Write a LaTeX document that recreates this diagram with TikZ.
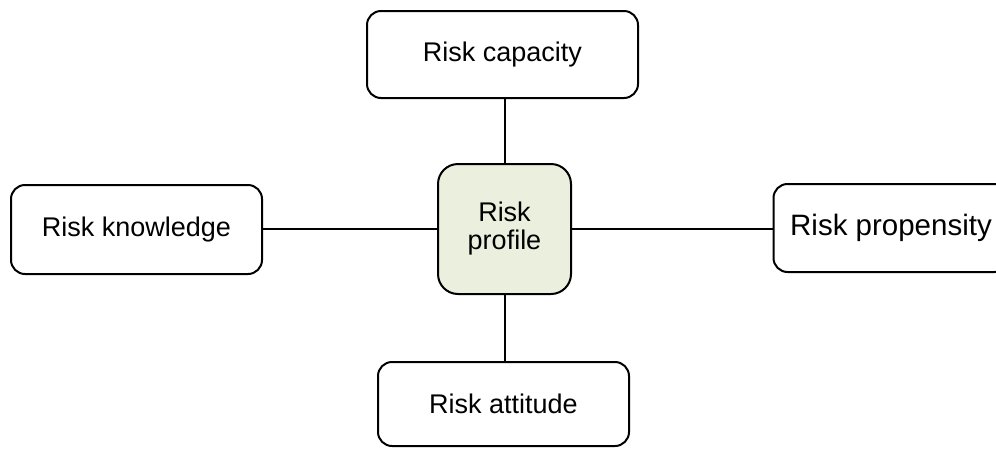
\documentclass[tikz,border=0pt]{standalone}
\usepackage{fontspec}
\setmainfont{Liberation Sans}
\definecolor{profilefill}{RGB}{235,239,222}
\begin{document}
\begin{tikzpicture}[x=1pt,y=-1pt,
  riskbox/.style={draw=black, line width=2pt, rounded corners=14pt,
    rectangle, inner sep=0pt, fill=white, align=center,
    font=\fontsize{27}{29}\selectfont},
  link/.style={draw=black, line width=2pt}]
  \useasboundingbox (0,0) rectangle (996,448);
  % outer factors
  \node[riskbox, minimum width=271pt, minimum height=87pt] (cap) at (502.5,54.5) {Risk capacity};
  \node[riskbox, minimum width=251pt, minimum height=89pt] (know) at (136.5,229.5) {Risk knowledge};
  \node[riskbox, minimum width=235pt, minimum height=88pt, font=\fontsize{29.5}{31}\selectfont] (prop) at (891,228) {Risk propensity};
  \node[riskbox, minimum width=251pt, minimum height=84pt] (att) at (503.5,404) {Risk attitude};
  % central node
  \node[riskbox, fill=profilefill, rounded corners=20pt, minimum width=133pt, minimum height=130pt,
    font=\fontsize{27}{28}\selectfont] (prof) at (504.5,229) {Risk\\profile};
  % connectors
  \draw[link] (cap.south -| prof.north) -- (prof.north);
  \draw[link] (prof.south) -- (prof.south |- att.north);
  \draw[link] (know.east |- 0,229) -- (prof.west |- 0,229);
  \draw[link] (prof.east |- 0,229) -- (prop.west |- 0,229);
\end{tikzpicture}
\end{document}
